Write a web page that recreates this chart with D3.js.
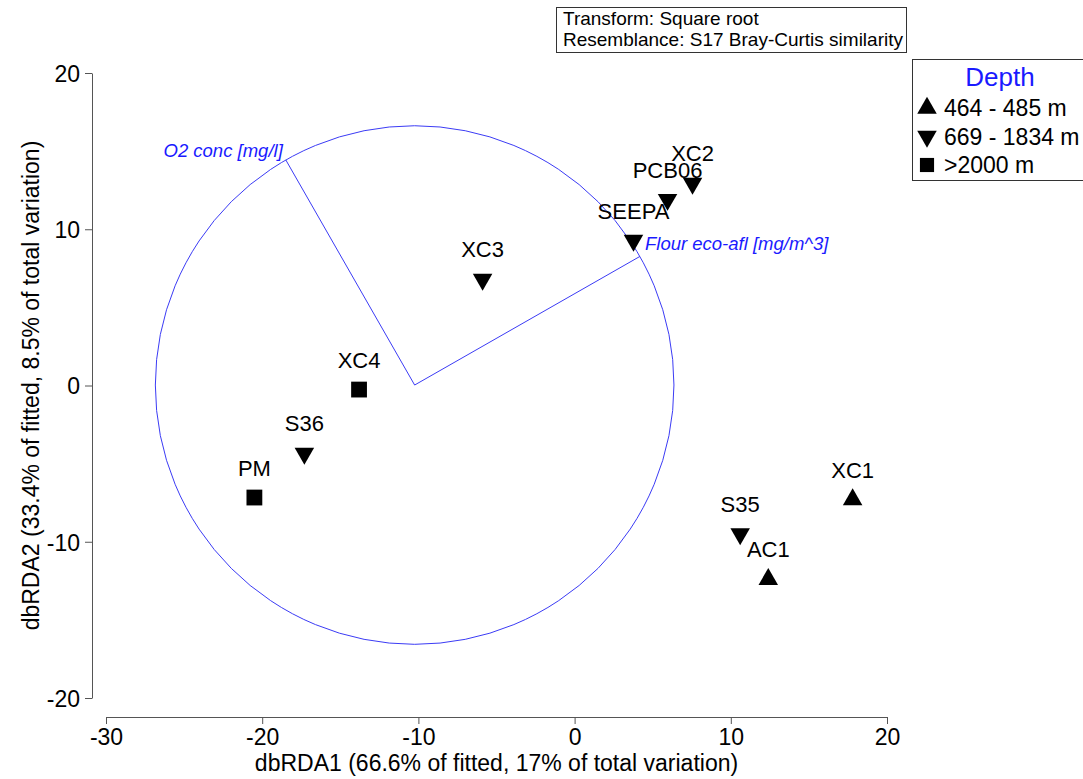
<!DOCTYPE html>
<html><head><meta charset="utf-8">
<script src="https://cdn.jsdelivr.net/npm/d3@7"></script>
<style>body{margin:0;background:#fff}svg{display:block}text{font-family:"Liberation Sans",Arial,sans-serif}</style>
</head><body>
<svg id="c" width="1083" height="779"></svg>
<script>
const samples = ["XC2","PCB06","SEEPA","XC3","XC4","S36","PM","S35","AC1","XC1"];
const dbRDA1 = [7.55, 5.95, 3.77, -5.89, -13.8, -17.3, -20.5, 10.6, 12.4, 17.8];
const dbRDA2 = [12.93, 11.9, 9.28, 6.79, -0.26, -4.35, -7.17, -9.5, -12.4, -7.3];
const depth = ["669 - 1834 m","669 - 1834 m","669 - 1834 m","669 - 1834 m",">2000 m","669 - 1834 m",">2000 m","669 - 1834 m","464 - 485 m","464 - 485 m"];
const depthGroups = ["464 - 485 m","669 - 1834 m",">2000 m"];
const vectorNames = ["O2 conc [mg/l]","Flour eco-afl [mg/m^3]"];
const vectorX = [-0.497, 0.869];
const vectorY = [0.868, 0.496];
const circleCenter = [-10.24, 0.03];
const circleRadius = 16.6;
const xTicks = [-30,-20,-10,0,10,20];
const yTicks = [-20,-10,0,10,20];
const infoLines = ["Transform: Square root","Resemblance: S17 Bray-Curtis similarity"];

const svg = d3.select("#c");
const x = d3.scaleLinear().domain([-30,20]).range([106,887]);
const y = d3.scaleLinear().domain([-20,20]).range([698,73]);
const fmt = d => String(d);

// axes
const xAxis = d3.axisBottom(x).tickValues(xTicks).tickFormat(fmt).tickSize(7).tickSizeOuter(0);
const gx = svg.append("g").attr("transform","translate(0,717)").call(xAxis);
const yAxis = d3.axisLeft(y).tickValues(yTicks).tickFormat(fmt).tickSize(7).tickPadding(5).tickSizeOuter(0);
const gy = svg.append("g").attr("transform","translate(92,0)").call(yAxis);
[gx,gy].forEach(g=>{
  g.select(".domain").attr("stroke","#555");
  g.selectAll(".tick line").attr("stroke","#555");
  g.selectAll(".tick text").attr("font-size",23).attr("fill","#000").attr("font-family","Liberation Sans, Arial, sans-serif");
});
gx.selectAll(".tick text").attr("y",28).attr("dy",0);
gy.selectAll(".tick text").attr("dy","0.36em");

svg.append("text").attr("x",(x(-30)+x(20))/2).attr("y",771).attr("text-anchor","middle")
  .attr("font-size",23).text("dbRDA1 (66.6% of fitted, 17% of total variation)");
svg.append("text").attr("transform",`translate(39,${(y(-20)+y(20))/2}) rotate(-90)`).attr("text-anchor","middle")
  .attr("font-size",23).text("dbRDA2 (33.4% of fitted, 8.5% of total variation)");

// circle & vectors
const cx = x(circleCenter[0]), cy = y(circleCenter[1]);
const rpx = x(circleCenter[0]+circleRadius) - cx;
svg.append("circle").attr("cx",cx).attr("cy",cy).attr("r",rpx).attr("fill","none").attr("stroke","#3b3bf5").attr("stroke-width",1);
vectorNames.forEach((n,i)=>{
  const ex = x(circleCenter[0]+vectorX[i]*circleRadius), ey = y(circleCenter[1]+vectorY[i]*circleRadius);
  svg.append("line").attr("x1",cx).attr("y1",cy).attr("x2",ex).attr("y2",ey).attr("stroke","#3b3bf5").attr("stroke-width",1);
  const t = svg.append("text").attr("font-size",18.5).attr("font-style","italic").attr("fill","#1a1aff").text(n);
  if (vectorX[i] < 0) t.attr("x",ex-3).attr("y",ey-3).attr("text-anchor","end");
  else t.attr("x",ex+5).attr("y",ey-6).attr("text-anchor","start");
});

// points
const shape = {"464 - 485 m":{t:d3.symbolTriangle,s:165,r:0},"669 - 1834 m":{t:d3.symbolTriangle,s:165,r:180},">2000 m":{t:d3.symbolSquare,s:250,r:0}};
samples.forEach((s,i)=>{
  const px = x(dbRDA1[i]), py = y(dbRDA2[i]);
  const sh = shape[depth[i]];
  svg.append("path").attr("d",d3.symbol(sh.t,sh.s)()).attr("transform",`translate(${px},${py}) rotate(${sh.r})`).attr("fill","#000");
});
samples.forEach((s,i)=>{
  const px = x(dbRDA1[i]), py = y(dbRDA2[i]);
  svg.append("text").attr("x",px).attr("y",py-22).attr("text-anchor","middle").attr("font-size",22).attr("fill","#000").text(s);
});

// info box
svg.append("rect").attr("x",556.5).attr("y",7.5).attr("width",350).attr("height",45).attr("fill","#fff").attr("stroke","#333");
infoLines.forEach((l,i)=>svg.append("text").attr("x",563).attr("y",25+i*21).attr("font-size",19).text(l));

// legend
svg.append("rect").attr("x",912.5).attr("y",59.5).attr("width",175).attr("height",121).attr("fill","#fff").attr("stroke","#333");
svg.append("text").attr("x",1000).attr("y",86).attr("text-anchor","middle").attr("font-size",26).attr("fill","#1a1aff").text("Depth");
depthGroups.forEach((g,i)=>{
  const ly = 108 + i*28.5;
  const sh = shape[g];
  svg.append("path").attr("d",d3.symbol(sh.t,sh.t===d3.symbolSquare?200:sh.s)()).attr("transform",`translate(927,${ly}) rotate(${sh.r})`).attr("fill","#000");
  svg.append("text").attr("x",944).attr("y",ly+8).attr("font-size",23).text(g);
});
</script>
</body></html>
